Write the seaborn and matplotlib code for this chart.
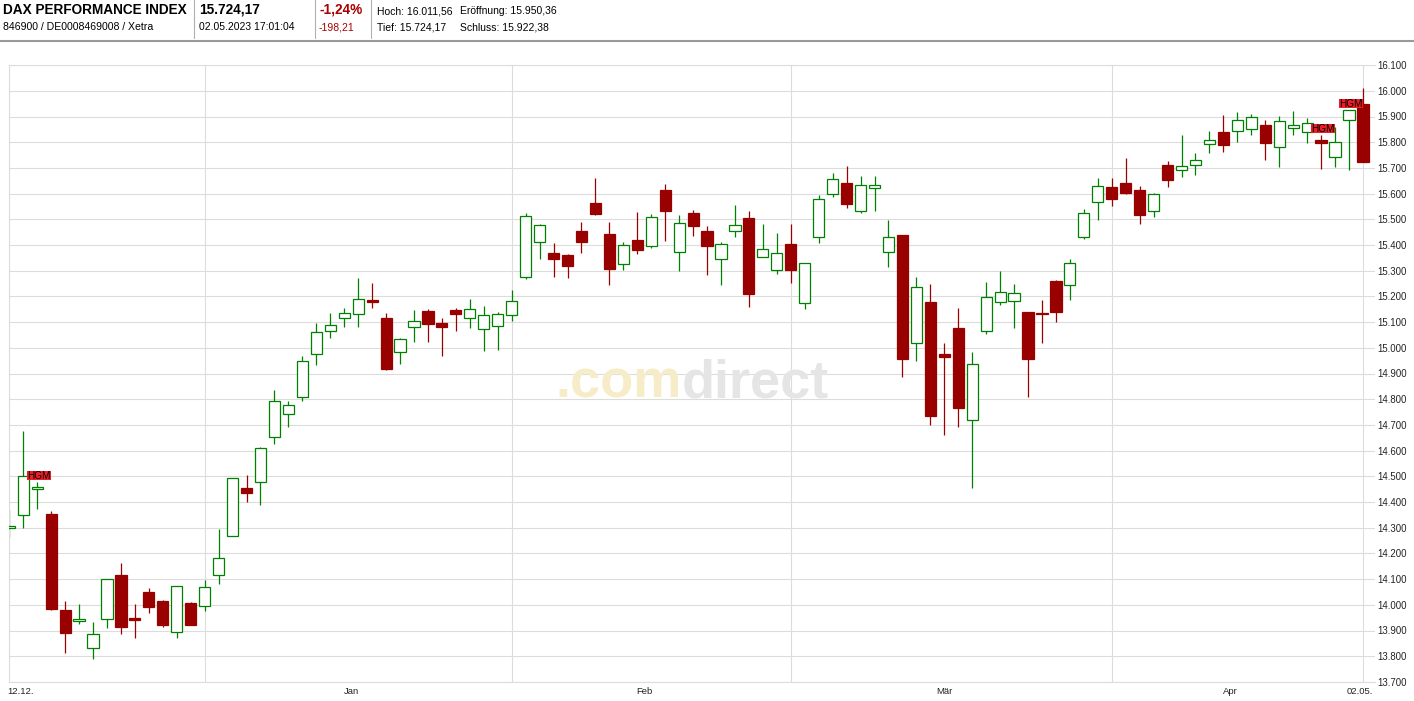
import numpy as np
import pandas as pd
import matplotlib
matplotlib.use("Agg")
import matplotlib.pyplot as plt
from matplotlib.lines import Line2D
from matplotlib.patches import Rectangle
import seaborn as sns

sns.set_style("white")
plt.rcParams['font.family'] = ['Liberation Sans', 'DejaVu Sans']

# Xetra trading days 12.12.2022 - 02.05.2023
holidays = ['2022-12-26', '2023-04-07', '2023-04-10', '2023-05-01']
dates = pd.bdate_range('2022-12-12', '2023-05-02', freq='C', holidays=holidays)

opens = [14300, 14348, 14452, 14353, 13980, 13936, 13831, 13944, 14116, 13949,
         14050, 14015, 13893, 14007, 13994, 14115, 14267, 14453, 14477, 14652,
         14741, 14807, 14975, 15064, 15115, 15130, 15185, 15116, 14985, 15080,
         15143, 15096, 15147, 15115, 15072, 15084, 15126, 15274, 15411, 15369,
         15361, 15454, 15563, 15443, 15325, 15419, 15395, 15614, 15372, 15524,
         15454, 15344, 15453, 15505, 15352, 15302, 15404, 15173, 15430, 15597,
         15640, 15531, 15621, 15372, 15439, 15017, 15178, 14976, 15077, 14718,
         15064, 15177, 15181, 15139, 15135, 15260, 15243, 15430, 15569, 15626,
         15641, 15614, 15531, 15712, 15691, 15710, 15792, 15840, 15842, 15850,
         15867, 15782, 15854, 15838, 15809, 15741, 15885, 15950]
highs = [14370, 14676, 14476, 14365, 14015, 14003, 13933, 14099, 14163, 14003,
         14067, 14019, 14073, 14011, 14095, 14295, 14492, 14505, 14614, 14836,
         14793, 14968, 15096, 15135, 15155, 15272, 15252, 15135, 15039, 15147,
         15152, 15116, 15155, 15190, 15161, 15138, 15225, 15523, 15480, 15408,
         15364, 15489, 15661, 15489, 15412, 15528, 15520, 15637, 15516, 15536,
         15474, 15412, 15555, 15532, 15482, 15447, 15482, 15329, 15595, 15680,
         15707, 15668, 15668, 15497, 15440, 15275, 15248, 15019, 15155, 14984,
         15256, 15299, 15248, 15139, 15186, 15264, 15346, 15540, 15661, 15661,
         15739, 15630, 15604, 15727, 15828, 15758, 15844, 15907, 15917, 15911,
         15886, 15902, 15920, 15894, 15827, 15860, 15924, 16012]
lows = [14262, 14300, 14374, 13980, 13814, 13926, 13790, 13911, 13888, 13872,
        13967, 13915, 13872, 13923, 13977, 14082, 14267, 14401, 14390, 14627,
        14693, 14794, 14934, 15039, 15082, 15082, 15156, 14914, 14938, 15024,
        15024, 14969, 15067, 15078, 14989, 14993, 15105, 15267, 15347, 15277,
        15273, 15370, 15518, 15246, 15304, 15366, 15389, 15417, 15300, 15436,
        15284, 15246, 15432, 15160, 15352, 15288, 15253, 15150, 15409, 15588,
        15545, 15526, 15533, 15316, 14888, 14950, 14701, 14662, 14693, 14456,
        15055, 15168, 15078, 14810, 15020, 15101, 15186, 15425, 15498, 15553,
        15600, 15483, 15510, 15627, 15666, 15674, 15759, 15763, 15802, 15829,
        15732, 15705, 15829, 15796, 15695, 15704, 15691, 15724]
closes = [14306, 14500, 14460, 13984, 13892, 13944, 13885, 14099, 13915, 13940,
          13993, 13923, 14073, 13923, 14068, 14181, 14492, 14436, 14609, 14792,
          14776, 14947, 15060, 15088, 15134, 15189, 15180, 14919, 15033, 15103,
          15094, 15082, 15133, 15150, 15126, 15130, 15181, 15512, 15477, 15347,
          15320, 15413, 15522, 15308, 15399, 15382, 15508, 15533, 15484, 15475,
          15397, 15404, 15477, 15211, 15383, 15368, 15304, 15329, 15578, 15656,
          15561, 15632, 15632, 15430, 14958, 15235, 14736, 14966, 14767, 14936,
          15196, 15216, 15212, 14958, 15130, 15140, 15329, 15523, 15628, 15580,
          15603, 15518, 15598, 15654, 15707, 15730, 15807, 15790, 15885, 15897,
          15796, 15881, 15866, 15876, 15796, 15801, 15924, 15724]

month_labels = ['Jan', 'Feb', 'Mär', 'Apr']
hgm_days = [2, 94, 96]
price_ticks = list(range(13700, 16101, 100))

header_row1 = ['DAX PERFORMANCE INDEX', '15.724,17', '-1,24%', 'Hoch: 16.011,56', 'Eröffnung: 15.950,36']
header_row2 = ['846900 / DE0008469008 / Xetra', '02.05.2023 17:01:04', '-198,21', 'Tief: 15.724,17', 'Schluss: 15.922,38']

GREEN = '#008000'
RED = '#990000'
GRID = '#dcdcdc'

df = pd.DataFrame({'date': dates, 'open': opens, 'high': highs, 'low': lows, 'close': closes})
df['x'] = np.arange(len(df))
df['up'] = df['close'] >= df['open']

W, H = 1414, 701
fig = plt.figure(figsize=(W / 100, H / 100), dpi=100)
ax = fig.add_axes([9.3 / W, (H - 681.9) / H, (1375 - 9.3) / W, (681.9 - 65.1) / H])

# wicks
ax.vlines(df['x'], df['low'], df['high'], colors=np.where(df['up'], GREEN, RED), lw=0.9, zorder=2)
# bodies
body_bottom = df[['open', 'close']].min(axis=1)
body_h = (df['close'] - df['open']).abs().clip(lower=3)
ax.bar(df['x'], body_h, bottom=body_bottom, width=0.8,
       facecolor=np.where(df['up'], 'white', RED), edgecolor=np.where(df['up'], GREEN, RED),
       linewidth=0.9, zorder=3)

# HGM markers
for d in hgm_days:
    y0 = df['high'][d] + 9
    ax.add_patch(Rectangle((d - 0.75, y0), 1.72, 34, facecolor='#ee1c25', edgecolor='none', zorder=4))
    ax.text(d - 0.75 + 0.86, y0 + 16, 'HGM', ha='center', va='center', fontsize=7.2,
            color='black', zorder=5)

ax.set_xlim(0, (1375 - 9.3) / 13.955)
ax.set_ylim(13700, 16100)

month_starts = [i for i in range(1, len(df)) if dates[i].month != dates[i - 1].month]
ax.set_xticks([0] + month_starts)
ax.set_xticklabels([])
ax.yaxis.tick_right()
ax.set_yticks(price_ticks)
ax.set_yticklabels([f"{v:,}".replace(',', '.') for v in price_ticks])
ax.tick_params(axis='both', length=0)
ax.tick_params(axis='y', pad=2, labelsize=6.9, labelcolor='#222222')
ax.set_axisbelow(True)
ax.grid(True, color=GRID, lw=0.8)
for side in ['left', 'bottom', 'top']:
    ax.spines[side].set_color(GRID)
    ax.spines[side].set_linewidth(0.8)
ax.spines['right'].set_visible(False)

# month labels
lab_y = -(691.7 - 681.9) / (681.9 - 65.1)
tr = ax.get_xaxis_transform()
for k, lab in enumerate(month_labels):
    xc = (month_starts[k] + month_starts[k + 1]) / 2 - 0.5
    ax.text(xc, lab_y, lab, transform=tr, ha='center', va='center', fontsize=6.8, color='#222222')
ax.text(-0.16, lab_y, dates[0].strftime('%d.%m.'), transform=tr, ha='left', va='center',
        fontsize=6.8, color='#222222', clip_on=False)
ax.text(97.72, lab_y, dates[-1].strftime('%d.%m.'), transform=tr, ha='right', va='center',
        fontsize=6.8, color='#222222', clip_on=False)

# watermark
t1 = fig.text(555 / W, 1 - 408 / H, '.com', fontsize=39, fontweight='bold', color='#f7ecc8',
              ha='left', va='bottom', zorder=1)
ax.annotate('direct', xy=(1, 0), xycoords=t1, xytext=(0, 0), textcoords='offset points',
            ha='left', va='bottom', fontsize=39, fontweight='bold', color='#e5e5e5', zorder=1)

# header
xs = [3, 199, 319, 377, 460.5]
for k, (a, b) in enumerate(zip(header_row1, header_row2)):
    big = k < 3
    col = '#aa0000' if k == 2 else 'black'
    fig.text(xs[k] / W, 1 - 14 / H, a, fontsize=9.8 if big else 7.5,
             fontweight='bold' if big else 'normal', color=col, ha='left', va='baseline')
    fig.text(xs[k] / W, 1 - 30.5 / H, b, fontsize=7.6 if k == 0 else 7.5,
             color=col, ha='left', va='baseline')
for sx in [194.4, 314.6, 371.2]:
    fig.add_artist(Line2D([sx / W, sx / W], [1, 1 - 38 / H], transform=fig.transFigure,
                          color='#b0b0b0', lw=0.8))
fig.add_artist(Line2D([0, 1], [1 - 40.5 / H, 1 - 40.5 / H], transform=fig.transFigure,
                      color='#999999', lw=1.5))

fig.savefig('out.png', dpi=100)
